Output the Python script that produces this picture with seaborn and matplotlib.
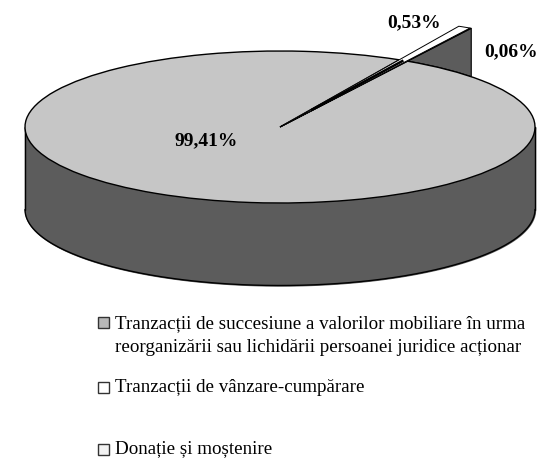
"""
Pie with a fake 3D wall: share of transactions by type.
"""

import numpy as np
import matplotlib
matplotlib.use('Agg')
import matplotlib.pyplot as plt
from matplotlib.patches import Rectangle
import seaborn as sns

# ---- data ----
shares = [0.06, 0.53, 99.41]
share_labels = ['0,06%', '0,53%', '99,41%']
legend_labels = [
    'Tranzacții de succesiune a valorilor mobiliare în urma\nreorganizării sau lichidării persoanei juridice acționar',
    'Tranzacții de vânzare-cumpărare',
    'Donație și moștenire',
]
slice_colors = ['#5c5c5c', '#ffffff', '#c6c6c6']
legend_colors = ['#b8b8b8', '#ffffff', '#f2f2f2']

# ---- layout, in pixels of the 549x459 picture ----
W, H = 549, 459
cx, cy, rx, ry = 280, 127, 255, 76
depth = 82.5
start_angle = 60.0
spike = 1.5  # the two thin slices stick out past the rim

sns.set_theme(style='white')
plt.rcParams['font.family'] = ['Liberation Serif', 'DejaVu Serif']

fig = plt.figure(figsize=(W / 100, H / 100), dpi=100)
ax = fig.add_axes([0, 0, 1, 1])

wedges, _ = ax.pie(shares, colors=slice_colors, startangle=start_angle, counterclock=True,
                   wedgeprops={'edgecolor': 'black', 'linewidth': 1.0, 'zorder': 3})
ax.set_aspect('auto')
ax.set_xlim(-cx / rx, (W - cx) / rx)
ax.set_ylim((cy - H) / ry, cy / ry)
ax.axis('off')

d = depth / ry
wall = '#5c5c5c'

# front wall of the disc
t = np.linspace(np.pi, 2 * np.pi, 200)
ax.fill_between(np.cos(t), np.sin(t), np.sin(t) - d, color=wall, zorder=1)
ax.plot(np.cos(t), np.sin(t) - d, color='black', lw=1.0, zorder=2)
ax.plot([-1, -1], [0, -d], color='black', lw=1.0, zorder=2)
ax.plot([1, 1], [0, -d], color='black', lw=1.0, zorder=2)

# thin slices: longer radius, with the wall seen behind the rim
tip = np.deg2rad(start_angle)
tip_x = spike * np.cos(tip)
tip_y = spike * np.sin(tip)
rim_y = np.sqrt(1 - tip_x ** 2)
rim_t = np.arctan2(rim_y, tip_x)
t = np.linspace(tip, rim_t, 40)
back_x = np.r_[tip_x, np.cos(t)[::-1]]
back_y = np.r_[tip_y, np.sin(t)[::-1]]
ax.fill(back_x, back_y, facecolor=wall, edgecolor='black', lw=0.8, zorder=2)

for w in wedges[:2]:
    w.set_radius(spike)
    w.set_zorder(4)
    w.set_linewidth(0.7)

# inside the rim the white slice reads as a black stroke
mid = tip + np.deg2rad(sum(shares[:2]) * 3.6 / 2)
ax.plot([0.25 * np.cos(mid), np.cos(mid)], [0.25 * np.sin(mid), np.sin(mid)],
        color='black', lw=1.8, zorder=5, solid_capstyle='butt')

# ---- labels ----
def px(x, y):
    return (x - cx) / rx, (cy - y) / ry

ax.text(*px(414, 23), share_labels[1], fontsize=14, fontweight='bold', ha='center', va='center', color='black')
ax.text(*px(511, 52), share_labels[0], fontsize=14, fontweight='bold', ha='center', va='center', color='black')
ax.text(*px(206, 141), share_labels[2], fontsize=14, fontweight='bold', ha='center', va='center', color='black', zorder=5)

# ---- legend, spaced unevenly as in the source ----
box_y = [322.5, 387, 449]
text_y = [328, 392, 453]
for y, base, label, color in zip(box_y, text_y, legend_labels, legend_colors):
    fig.add_artist(Rectangle((97.5 / W, 1 - (y + 5.5) / H), 11 / W, 11 / H, transform=fig.transFigure,
                             facecolor=color, edgecolor='#333333', linewidth=1.0))
    for i, line in enumerate(label.split('\n')):
        fig.text(115 / W, 1 - (base + 24 * i) / H, line, fontsize=13.7, va='baseline', ha='left', color='black')

plt.savefig('out.png', dpi=100)
plt.close()
